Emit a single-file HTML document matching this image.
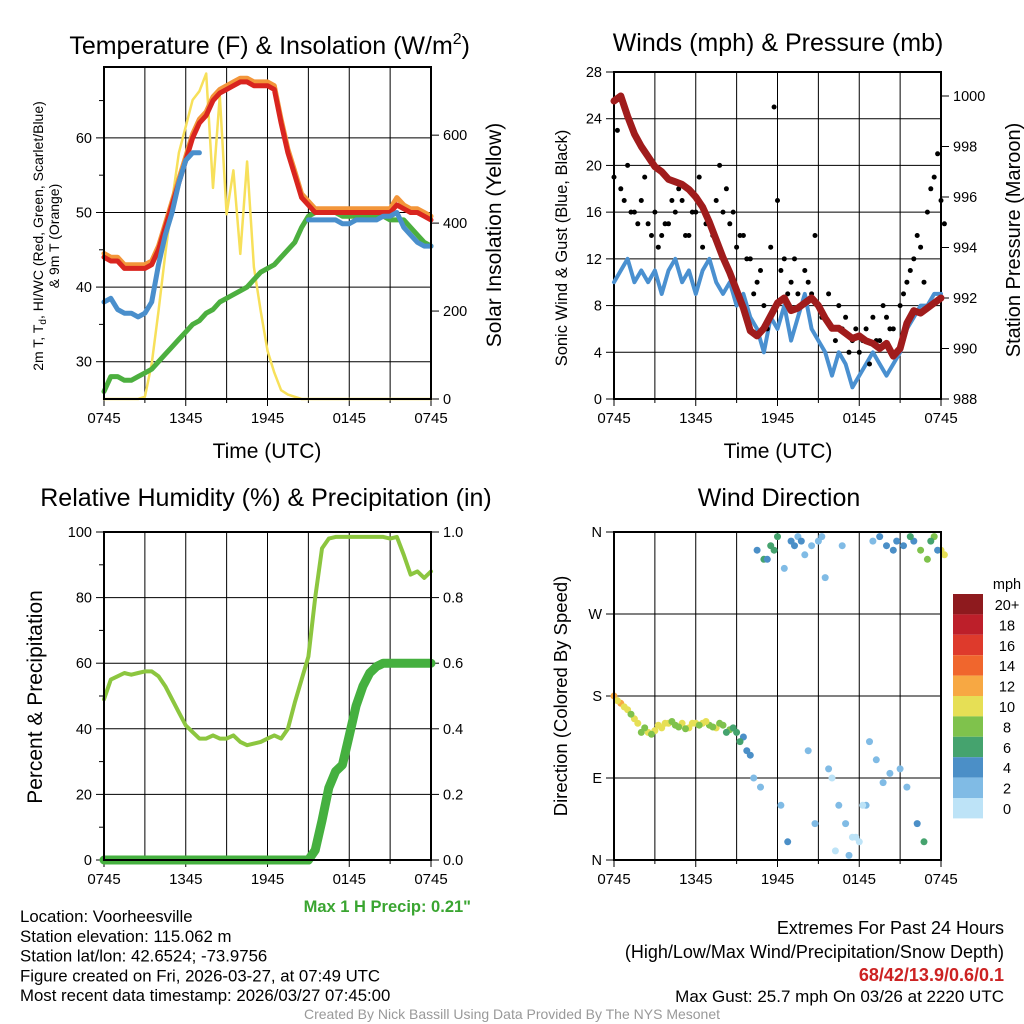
<!DOCTYPE html>
<html><head><meta charset="utf-8"><style>
body{margin:0;background:#fff;}
svg{display:block;font-family:"Liberation Sans",sans-serif;}
</style></head><body>
<svg id="chart" width="1024" height="1024" viewBox="0 0 1024 1024">
<g id="g"></g>
</svg>
<script>
// ---------- Data (30-minute samples, 0745 to 0745 UTC) ----------
const tickLabels = ["0745","1345","1945","0145","0745"];
const tempRed = [44,43.5,43.5,42.5,42.5,42.5,42.5,43,45,48,51,54,57,60,62,63,65,66,66.5,67,67.5,67.5,67,67,67,66.5,62,58,55,52,51,50,50,50,50,50,50,50,50,50,50,50,50,51,50.5,50,50,49.5,49];
const temp9m = [44.5,44,44,43,43,43,43,43.5,45.5,48.5,51.5,54.5,57.5,60.5,62.5,63.5,65.5,66.5,67,67.5,68,68,67.5,67.5,67.5,67,62.5,58.5,55.5,52.5,51.5,50.5,50.5,50.5,50.5,50.5,50.5,50.5,50.5,50.5,50.5,50.5,50.5,52,51,50.5,50.5,50,49.5];
const windChill = [38,38.5,37,36.5,36.5,36,36.5,38,43,47,50,54,57,58,58,null,null,null,null,null,null,null,null,null,null,null,null,null,null,null,49,49,49,49,49,48.5,48.5,49,49,49,49,49.5,49.5,50,48,47,46,45.5,45.5];
const dewPoint = [26,28,28,27.5,27.5,28,28.5,29,30,31,32,33,34,35,35.5,36.5,37,38,38.5,39,39.5,40,41,42,42.5,43,44,45,46,48,49.5,50,50,50,50,49.5,49.5,49.5,49.5,49.5,49.5,49.5,49,49,49,48,47,46,45.5];
const solar = [0,0,0,0,0,0,5,80,200,330,450,560,620,680,700,740,480,690,420,520,330,540,300,200,110,60,20,10,5,0,0,0,0,0,0,0,0,0,0,0,0,0,0,0,0,0,0,0,0];
const windSpd = [10,11,12,10,11,10,11,9,11,12,10,11,9,11,12,10,9,10,8,9,7,6,4,7,6,8,5,7,9,6,5,4,2,4,3,1,2,3,4,3,2,3,4,6,7,8,8,9,9];
const gustA = [19,18,20,16,17,15,16,14,15,16,17,14,16,13,15,17,16,15,13,14,12,10,8,13,17,12,10,9,11,9,8,7,6,8,7,5,4,6,7,5,7,6,8,10,12,13,16,19,17];
const gustB = [23,17,16,15,19,14,13,15,17,18,14,16,19,15,14,20,18,16,14,12,9,11,6,25,11,9,12,8,10,14,7,9,5,6,4,6,5,3,5,8,6,4,9,11,14,10,18,21,15];
const pressure = [999.8,1000,999.2,998.5,998,997.6,997.2,997,996.7,996.6,996.5,996.3,996,995.6,995,994.3,993.6,993,992.3,991.6,990.7,990.5,990.8,991.3,991.8,992,991.5,991.6,991.8,992,991.7,991.2,990.8,990.8,990.6,990.4,990.5,990.3,990.2,990,990.2,989.7,990,991,991.5,991.4,991.6,991.8,992];
const rh = [49,55,56,57,56.5,57,57.5,57.5,56,53,49,45,41,39,37,37,38,37,37,38,36,35,35.5,36,37,38,37,40,48,55,62,80,95,98,98.5,98.5,98.5,98.5,98.5,98.5,98.5,98.5,98,98.5,93,87,88,86,88];
const precip = [0,0,0,0,0,0,0,0,0,0,0,0,0,0,0,0,0,0,0,0,0,0,0,0,0,0,0,0,0,0,0,0.03,0.12,0.22,0.27,0.29,0.38,0.47,0.53,0.57,0.59,0.6,0.6,0.6,0.6,0.6,0.6,0.6,0.6];
const dirA = [180,172,165,155,140,140,142,145,150,148,150,145,150,150,148,145,148,143,140,135,115,340,330,345,355,320,350,355,335,345,350,310,90,60,40,25,20,60,350,355,345,340,100,80,350,340,330,355,340];
const spdA = [12,13,10,10,9,10,11,11,10,9,11,10,10,11,9,10,8,8,7,5,4,5,6,7,6,3,4,3,2,3,3,2,1,2,3,1,0,2,3,4,5,5,3,2,4,8,9,8,11];
const dirB = [175,168,160,150,145,138,148,150,152,146,144,150,148,152,146,150,140,145,130,120,90,80,330,340,60,20,345,350,120,40,355,100,10,345,5,25,60,130,110,85,95,350,345,355,40,20,350,340,335];
const spdB = [11,10,9,10,8,9,10,10,9,8,9,10,9,10,8,9,7,7,6,4,3,3,5,6,3,4,5,4,3,2,3,2,1,3,2,1,1,3,2,3,2,4,4,6,4,7,6,5,10];
const cbLabels = ["20+","18","16","14","12","10","8","6","4","2","0"];
const cbColors = ["#8e1a1e","#bd1f2a","#de3a2c","#f0662d","#f7a843","#e6df55","#7fc24c","#45a36e","#4b8fc7","#80bbe5","#bde3f7"];

const NS="http://www.w3.org/2000/svg";
const G=document.getElementById('g');
function el(tag,attrs,parent,text){const e=document.createElementNS(NS,tag);for(const k in attrs)e.setAttribute(k,attrs[k]);if(text!==undefined)e.textContent=text;(parent||G).appendChild(e);return e;}
function lin(d0,d1,r0,r1){return v=>r0+(v-d0)*(r1-r0)/(d1-d0);}
function spdColor(s){let k=Math.min(10,Math.floor(s/2));return cbColors[10-k];}
function linePath(vals,x,y){let d="",pen=false;vals.forEach((v,i)=>{if(v===null){pen=false;return;}d+=(pen?"L":"M")+x(i).toFixed(1)+","+y(v).toFixed(1);pen=true;});return d;}

function panelFrame(L,T,R,B,name,yTicks,yFmt,yScale,rTicks,rFmt,rScale,minor){
  const g=el('g',{});
  
  
  for(let h=3;h<24;h+=3){const xx=L+(R-L)*h/24;const ln=el('line',{x1:xx,x2:xx,y1:T,y2:B,stroke:'#000','stroke-width':1},g);}
  yTicks.forEach(v=>{const yy=yScale(v);const ln=el('line',{x1:L,x2:R,y1:yy,y2:yy,stroke:'#000','stroke-width':1},g);
    el('line',{x1:L-8,x2:L,y1:yy,y2:yy,stroke:'#000'},g);
    const t=el('text',{x:L-12,y:yy+5,'text-anchor':'end','font-size':14.5},g,yFmt(v));});
  (minor||[]).forEach(v=>{const yy=yScale(v);el('line',{x1:L-5,x2:L,y1:yy,y2:yy,stroke:'#000'},g);});
  if(rTicks) rTicks.forEach(v=>{const yy=rScale(v);el('line',{x1:R,x2:R+8,y1:yy,y2:yy,stroke:'#000'},g);
    const t=el('text',{x:R+12,y:yy+5,'font-size':14.5},g,rFmt(v));});
  tickLabels.forEach((s,i)=>{const xx=L+(R-L)*i/4;el('line',{x1:xx,x2:xx,y1:B,y2:B+7,stroke:'#000'},g);
    const t=el('text',{x:xx,y:B+24,'text-anchor':'middle','font-size':15},g,s);});
  for(let h=3;h<24;h+=3){if(h%6===0)continue;const xx=L+(R-L)*h/24;el('line',{x1:xx,x2:xx,y1:B,y2:B+4,stroke:'#000'},g);}
  const r=el('rect',{x:L,y:T,width:R-L,height:B-T,fill:'none',stroke:'#000','stroke-width':2},g);
  return g;
}
function txt(x,y,s,size,name,extra){const t=el('text',Object.assign({x:x,y:y,'font-size':size},extra||{}),G,s);return t;}
function series(d,color,w,name,parent){const p=el('path',{d:d,fill:'none',stroke:color,'stroke-width':w,'stroke-linejoin':'round','stroke-linecap':'round'},parent);return p;}

// ---------- Panel 1 ----------
(function(){
 const L=104,T=67,R=431,B=399;
 const x=lin(0,48,L,R), y=lin(25,69.5,B,T), ys=lin(0,755,B,T);
 const g=panelFrame(L,T,R,B,'temperature-panel',[30,40,50,60],v=>v,y,[0,200,400,600],v=>v,ys,[35,45,55,65]);
 series(linePath(solar,x,ys),'#f7e05a',2.5,'solar-insolation-line',g);
 series(linePath(dewPoint,x,y),'#4caf3f',5,'dewpoint-line',g);
 series(linePath(temp9m,x,y),'#f3963a',5,'temp-9m-line',g);
 series(linePath(tempRed,x,y),'#d9251f',5,'temp-2m-line',g);
 series(linePath(windChill,x,y),'#4a8fcc',5,'windchill-line',g);
 el('rect',{x:L,y:T,width:R-L,height:B-T,fill:'none',stroke:'#000','stroke-width':2},g);
})();
(function(){const t=txt(470,54,'',25,'temperature-title',{'text-anchor':'end'});
 el('tspan',{},t,'Temperature (F) & Insolation (W/m');el('tspan',{dy:-10,'font-size':16},t,'2');el('tspan',{dy:10},t,')');})();
txt(267,458,'Time (UTC)',21,'x-axis-title',{'text-anchor':'middle'});
(function(){const t=txt(0,0,'',14,'left-axis-title',{transform:'translate(43,236) rotate(-90)','text-anchor':'middle'});
 el('tspan',{},t,'2m T, T');el('tspan',{dy:3,'font-size':10},t,'d');el('tspan',{dy:-3},t,', HI/WC (Red, Green, Scarlet/Blue)');})();
txt(0,0,'& 9m T (Orange)',14,'left-axis-title-2',{transform:'translate(59,236) rotate(-90)','text-anchor':'middle'});
txt(0,0,'Solar Insolation (Yellow)',21,'right-axis-title',{transform:'translate(501,235) rotate(-90)','text-anchor':'middle'});

// ---------- Panel 2 ----------
(function(){
 const L=614,T=72,R=941,B=399;
 const x=lin(0,48,L,R), y=lin(0,28,B,T), yp=lin(988,1000.95,B,T);
 const g=panelFrame(L,T,R,B,'winds-panel',[0,4,8,12,16,20,24,28],v=>v,y,[988,990,992,994,996,998,1000],v=>v,yp,[]);
 series(linePath(windSpd,x,y),'#4a90d0',4,'sonic-wind-line',g);
 [gustA,gustB].forEach((arr,k)=>arr.forEach((v,i)=>{const c=el('circle',{cx:x(i+(k?0.5:0)).toFixed(1),cy:y(v).toFixed(1),r:2.5,fill:'#000'},g);}));
 series(linePath(pressure,x,yp),'#a01c1c',7,'pressure-line',g);
})();
txt(778,51,'Winds (mph) & Pressure (mb)',25,'winds-title',{'text-anchor':'middle'});
txt(778,458,'Time (UTC)',21,'x-axis-title-2',{'text-anchor':'middle'});
txt(0,0,'Sonic Wind & Gust (Blue, Black)',16.5,'wind-axis-title',{transform:'translate(567,248) rotate(-90)','text-anchor':'middle'});
txt(0,0,'Station Pressure (Maroon)',20,'pressure-axis-title',{transform:'translate(1020,240) rotate(-90)','text-anchor':'middle'});

// ---------- Panel 3 ----------
(function(){
 const L=104,T=532,R=431,B=860;
 const x=lin(0,48,L,R), y=lin(0,100,B,T), yr=lin(0,1,B,T);
 const g=panelFrame(L,T,R,B,'humidity-panel',[0,20,40,60,80,100],v=>v,y,[0,0.2,0.4,0.6,0.8,1.0],v=>v.toFixed(1),yr,[10,30,50,70,90]);
 series(linePath(rh,x,y),'#8cc63f',4,'rh-line',g);
 series(linePath(precip,x,yr),'#45b03f',9,'precip-line',g);
 el('rect',{x:L,y:T,width:R-L,height:B-T,fill:'none',stroke:'#000','stroke-width':2},g);
})();
txt(266,506,'Relative Humidity (%) & Precipitation (in)',25,'humidity-title',{'text-anchor':'middle'});
txt(0,0,'Percent & Precipitation',21,'rh-axis-title',{transform:'translate(42,697) rotate(-90)','text-anchor':'middle'});
txt(471,912,'Max 1 H Precip: 0.21"',16.5,'max-precip-label',{'text-anchor':'end',fill:'#3aa531','font-weight':'bold'});

// ---------- Panel 4 ----------
(function(){
 const L=614,T=532,R=941,B=860;
 const x=lin(0,48,L,R), y=lin(0,360,B,T);
 const g=panelFrame(L,T,R,B,'wind-direction-panel',[0,90,180,270,360],v=>({0:'N',90:'E',180:'S',270:'W',360:'N'})[v],y,null,null,null,[]);
 [[dirA,spdA,0],[dirB,spdB,0.5]].forEach(([d,s,o])=>d.forEach((v,i)=>{const c=el('circle',{cx:x(i+o).toFixed(1),cy:y(v).toFixed(1),r:3.5,fill:spdColor(s[i])},g);}));
 el('rect',{x:L,y:T,width:R-L,height:B-T,fill:'none',stroke:'#000','stroke-width':2},g);
 const cb=el('g',{});
 cbColors.forEach((c,i)=>{el('rect',{x:953,y:594+i*20.4,width:30,height:20.4,fill:c},cb);
   const t=el('text',{x:1007,y:594+i*20.4+16,'font-size':14.5,'text-anchor':'middle'},cb,cbLabels[i]);});
 const t=el('text',{x:1007,y:589,'font-size':14.5,'text-anchor':'middle'},cb,'mph');
})();
txt(779,506,'Wind Direction',25,'direction-title',{'text-anchor':'middle'});
txt(0,0,'Direction (Colored By Speed)',18.5,'direction-axis-title',{transform:'translate(567,696) rotate(-90)','text-anchor':'middle'});

// ---------- Footer text ----------
const info=["Location: Voorheesville","Station elevation: 115.062 m","Station lat/lon: 42.6524; -73.9756","Figure created on Fri, 2026-03-27, at 07:49 UTC","Most recent data timestamp: 2026/03/27 07:45:00"];
info.forEach((s,i)=>txt(20,922+i*19.8,s,16.8,'station-info-line'));
txt(1004,934,'Extremes For Past 24 Hours',18,'extremes-title',{'text-anchor':'end'});
txt(1004,958,'(High/Low/Max Wind/Precipitation/Snow Depth)',18,'extremes-subtitle',{'text-anchor':'end'});
txt(1004,981,'68/42/13.9/0.6/0.1',18,'extremes-values',{'text-anchor':'end',fill:'#cc2222','font-weight':'bold'});
txt(1004,1002,'Max Gust: 25.7 mph On 03/26 at 2220 UTC',17,'max-gust-label',{'text-anchor':'end'});
txt(512,1019,'Created By Nick Bassill Using Data Provided By The NYS Mesonet',14,'credit-line',{'text-anchor':'middle',fill:'#999'});
</script>
</body></html>
